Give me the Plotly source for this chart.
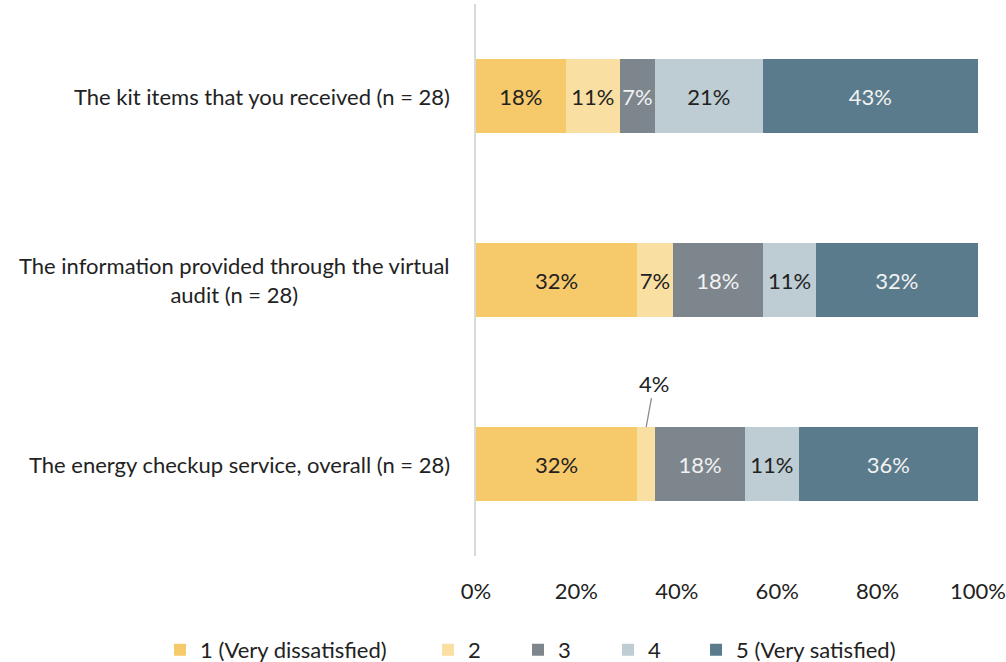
import plotly.graph_objects as go

categories = [
    "The kit items that you received (n = 28)",
    "The information provided through the virtual<br>audit (n = 28)",
    "The energy checkup service, overall (n = 28)",
]
series_names = ["1 (Very dissatisfied)", "2", "3", "4", "5 (Very satisfied)"]
# percentages (counts out of 28)
values = {
    "1 (Very dissatisfied)": [17.9, 32.1, 32.1],
    "2": [10.7, 7.1, 3.6],
    "3": [7.1, 17.9, 17.9],
    "4": [21.4, 10.7, 10.7],
    "5 (Very satisfied)": [42.9, 32.1, 35.7],
}
colors = ["#F6C96B", "#FADFA3", "#7E868D", "#BDCDD3", "#5A7B8B"]
text_colors = ["#222222", "#222222", "#F2F2F2", "#222222", "#F2F2F2"]
legend_groups = ["legend", "legend2", "legend2", "legend2", "legend3"]
FONT = "Lato"
FS = 22
DARK = "#222222"

fig = go.Figure()
for name, col, tcol, lg in zip(series_names, colors, text_colors, legend_groups):
    vals = values[name]
    texts = [f"{round(v)}%" if v >= 5 else "" for v in vals]
    fig.add_trace(go.Bar(
        name=name, y=list(range(len(categories))), x=vals, orientation="h",
        marker=dict(color=col, line=dict(width=0)),
        text=texts, textposition="inside", insidetextanchor="middle",
        textangle=0, constraintext="none",
        textfont=dict(family=FONT, size=FS, color=tcol),
        width=0.4, cliponaxis=False, hoverinfo="skip", legend=lg,
    ))

annotations = []
for i, c in enumerate(categories):
    annotations.append(dict(
        x=0, xref="paper", y=i, yref="y", text=c, showarrow=False,
        xanchor="right", align="center", xshift=-24,
        font=dict(family=FONT, size=FS, color=DARK),
    ))

# leader-line label for the small segment
small_idx = 2
v1 = values["1 (Very dissatisfied)"][small_idx]
v2 = values["2"][small_idx]
annotations.append(dict(
    x=v1 + v2 / 2, y=small_idx - 0.2, xref="x", yref="y",
    text=f"{round(v2)}%", showarrow=True, arrowhead=0, arrowwidth=1.3,
    arrowcolor="#8C8C8C", ax=8, ay=-44,
    font=dict(family=FONT, size=FS, color=DARK),
))

leg_common = dict(orientation="h", xref="paper", yref="paper", y=-0.17,
                  yanchor="middle", xanchor="left", traceorder="normal",
                  font=dict(family=FONT, size=FS, color=DARK),
                  bgcolor="rgba(0,0,0,0)", borderwidth=0)

fig.update_layout(
    width=1006, height=662,
    margin=dict(l=476, r=28, t=4, b=106, autoexpand=False),
    paper_bgcolor="white", plot_bgcolor="white",
    barmode="stack",
    font=dict(family=FONT, size=FS, color=DARK),
    xaxis=dict(range=[0, 100], dtick=20, ticksuffix="%", showgrid=False,
               zeroline=False, showline=False, ticks="",
               ticklabelstandoff=20,
               tickfont=dict(family=FONT, size=FS, color=DARK)),
    yaxis=dict(range=[2.5, -0.5], showticklabels=False, showgrid=False,
               zeroline=False, showline=True, linecolor="#D9D9D9", linewidth=2,
               ticks=""),
    legend=dict(leg_common, x=-0.6295),
    legend2=dict(leg_common, x=-0.0956, entrywidth=45),
    legend3=dict(leg_common, x=0.4383),
    annotations=annotations,
    showlegend=True,
)

fig.write_html("out.html", post_script="document.body.style.margin='0';",
               config={"displayModeBar": False})
